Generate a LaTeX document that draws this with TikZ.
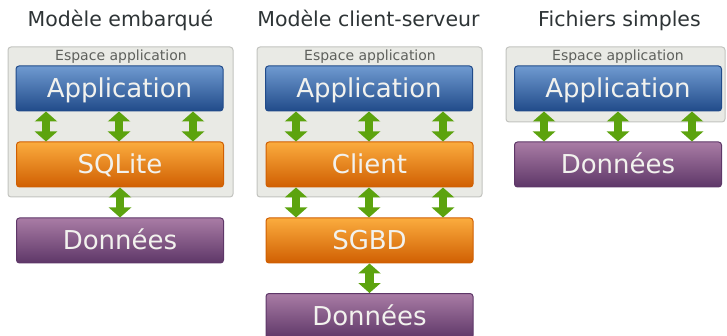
\documentclass[tikz,border=0pt]{standalone}
\usepackage{fontspec}
\setmainfont{DejaVu Sans}
\usetikzlibrary{arrows.meta}
\definecolor{titlec}{HTML}{2E3436}
\definecolor{spacefill}{HTML}{E9EAE5}
\definecolor{spacedraw}{HTML}{C2C3BF}
\definecolor{spacetext}{HTML}{5E605C}
\definecolor{bluetop}{HTML}{6F9AD0}
\definecolor{bluebot}{HTML}{214B8A}
\definecolor{orangetop}{HTML}{FBAC3E}
\definecolor{orangebot}{HTML}{D05F02}
\definecolor{purpletop}{HTML}{A97CA5}
\definecolor{purplebot}{HTML}{5E3768}
\definecolor{greenarr}{HTML}{5CA30E}
\definecolor{boxtext}{HTML}{F2F2EE}
\tikzset{
  x=1pt, y=-1pt,
  ttl/.style={font=\fontsize{20.5}{24}\selectfont, text=titlec, anchor=base, inner sep=0pt},
  spacebox/.style={draw=spacedraw, fill=spacefill, line width=1pt, rounded corners=3pt},
  spacelbl/.style={font=\fontsize{14}{16}\selectfont, text=spacetext, anchor=base, inner sep=0pt},
  boxbase/.style={minimum width=207pt, minimum height=45pt, inner sep=0pt, rounded corners=3pt,
     line width=1pt, text=boxtext, font=\fontsize{26}{30}\selectfont, text height=19pt, text depth=0pt},
  appbox/.style={boxbase, draw=bluebot, top color=bluetop, bottom color=bluebot},
  orbox/.style={boxbase, draw=orangebot, top color=orangetop, bottom color=orangebot},
  databox/.style={boxbase, draw=purplebot, top color=purpletop, bottom color=purplebot},
  dbl/.style={draw=greenarr, line width=8.5pt,
     {Triangle[width=22pt,length=10pt]}-{Triangle[width=22pt,length=10pt]}},
}
\begin{document}
\begin{tikzpicture}
\useasboundingbox (0,0) rectangle (727,336);
\clip (0,0) rectangle (727,336);
% titles
\node[ttl] (t1) at (120.5,26.7) {Modèle embarqué};
\node[ttl] (t2) at (368.5,26.7) {Modèle client-serveur};
\node[ttl] (t3) at (619.5,26.7) {Fichiers simples};
% application spaces
\draw[spacebox] (8,47) rectangle (233,197);
\draw[spacebox] (257,47) rectangle (482,197);
\draw[spacebox] (506,47) rectangle (725,122);
\node[spacelbl] (s1) at (121,60.5) {Espace application};
\node[spacelbl] (s2) at (370,60.5) {Espace application};
\node[spacelbl] (s3) at (618,60.5) {Espace application};
% panel 1
\node[appbox] (a1) at (119.5,88.5) {Application};
\node[orbox] (q1) at (120,164.5) {SQLite};
\node[databox] (d1) at (120,240.5) {Données};
% panel 2
\node[appbox] (a2) at (369,88.5) {Application};
\node[orbox] (c2) at (369.5,164.5) {Client};
\node[orbox] (g2) at (369.5,240.5) {SGBD};
\node[databox] (d2) at (369.5,316) {Données};
% panel 3
\node[appbox] (a3) at (618,88.5) {Application};
\node[databox] (d3) at (618,164.5) {Données};
% arrows panel 1
\foreach \xx in {46,119,193}{
  \draw[dbl] (\xx,0 |- a1.south) -- (\xx,0 |- q1.north);
}
\draw[dbl] (q1.south) -- (d1.north);
% arrows panel 2
\foreach \xx in {296,369,443}{
  \draw[dbl] (\xx,0 |- a2.south) -- (\xx,0 |- c2.north);
  \draw[dbl] (\xx,0 |- c2.south) -- (\xx,0 |- g2.north);
}
\draw[dbl] (g2.south) -- (d2.north);
% arrows panel 3
\foreach \xx in {544,618,692}{
  \draw[dbl] (\xx,0 |- a3.south) -- (\xx,0 |- d3.north);
}
\end{tikzpicture}
\end{document}
